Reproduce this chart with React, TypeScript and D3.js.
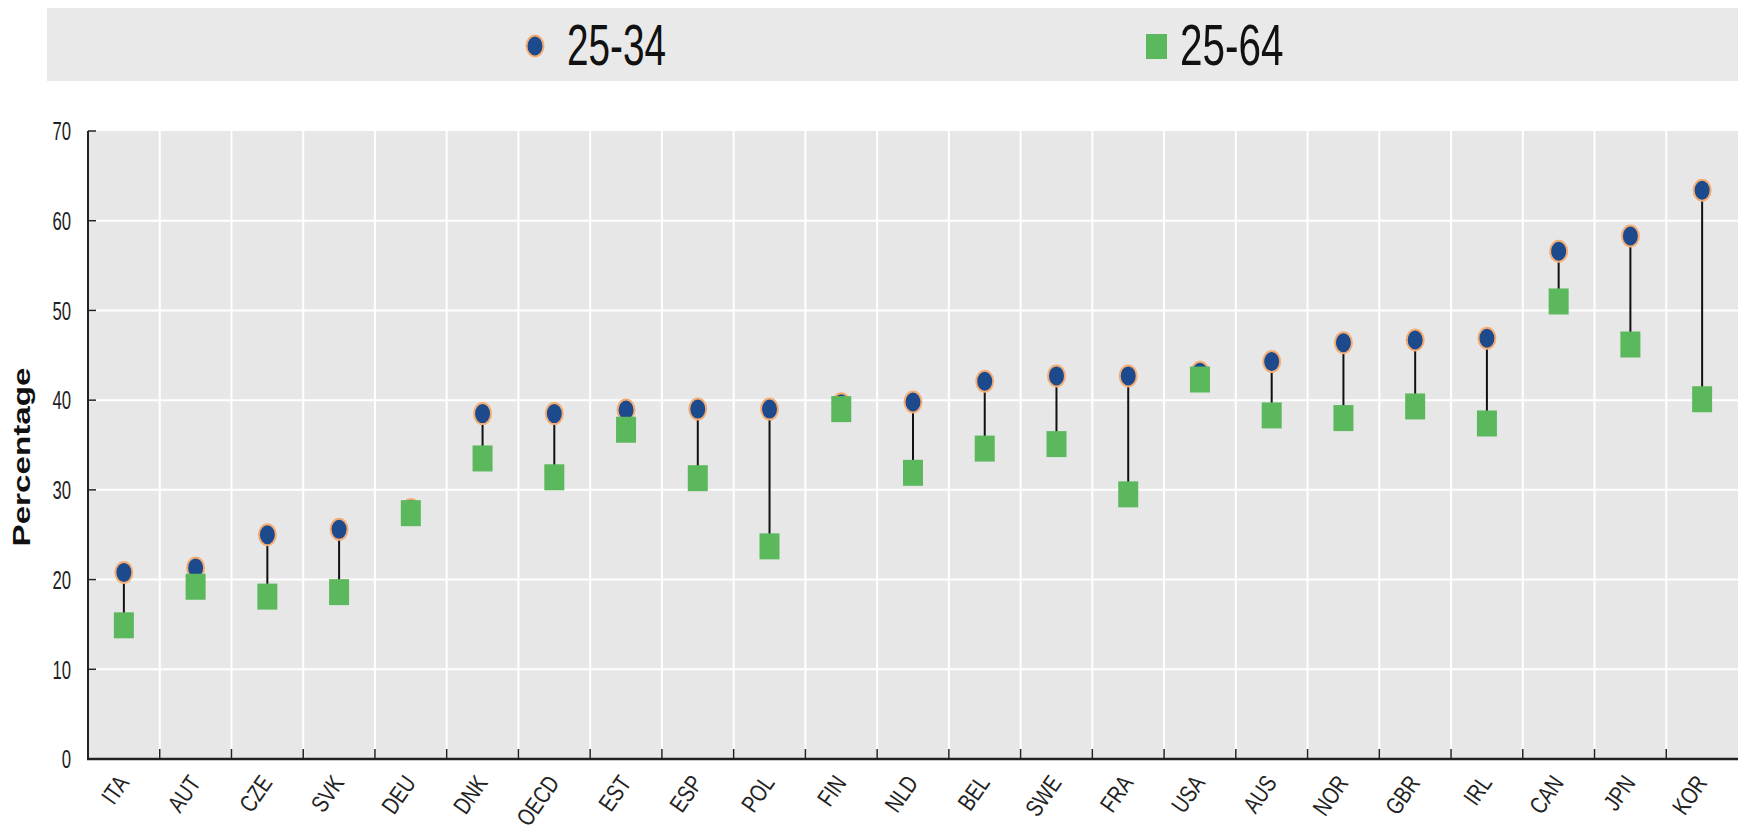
import React from 'react';
import * as d3 from 'd3';

const categories = ['ITA','AUT','CZE','SVK','DEU','DNK','OECD','EST','ESP','POL','FIN','NLD','BEL','SWE','FRA','USA','AUS','NOR','GBR','IRL','CAN','JPN','KOR'];
const age2534 = [20.8,21.3,25.0,25.6,27.8,38.5,38.5,38.9,39.0,39.0,39.6,39.8,42.1,42.7,42.7,43.1,44.3,46.4,46.7,46.9,56.6,58.3,63.4];
const age2564 = [14.9,19.2,18.1,18.6,27.4,33.5,31.4,36.7,31.3,23.7,39.0,31.9,34.6,35.1,29.5,42.3,38.3,38.0,39.3,37.4,51.0,46.2,40.1];
const yTicks = [0,10,20,30,40,50,60,70];
const legendLabels = ['25-34','25-64'];
const yTitle = 'Percentage';

const W = 1738, H = 830;
const FONT = '"Liberation Sans", Arial, sans-serif';
const BLUE = '#1d4a8c';
const ORANGE = '#f3ad75';
const GREEN = '#5cb85c';

export default function App() {
  const left = 88, right = 1738, top = 131, bottom = 759;
  const x = d3.scaleBand<string>().domain(categories).range([left, right]).padding(0);
  const y = d3.scaleLinear().domain([0, 70]).range([bottom, top]);
  const bw = x.bandwidth();
  const boundaries = categories.slice(1).map(c => x(c) as number);

  return (
    <svg width={W} height={H} style={{ position: 'absolute', left: 0, top: 0, background: '#fff' }} fontFamily={FONT}>
      {/* legend */}
      <rect x={47} y={8} width={W - 47} height={73} fill="#e9e9e9" />
      <ellipse cx={535} cy={46} rx={8.5} ry={10.5} fill={BLUE} stroke={ORANGE} strokeWidth={2} />
      <text transform="translate(567,65) scale(0.88,1.32)" fontSize={44} fill="#111">{legendLabels[0]}</text>
      <rect x={1146} y={34} width={21} height={25} fill={GREEN} />
      <text transform="translate(1180,65) scale(0.92,1.32)" fontSize={44} fill="#111">{legendLabels[1]}</text>

      {/* plot background */}
      <rect x={left} y={top} width={right - left} height={bottom - top} fill="#e7e7e7" />
      {yTicks.filter(t => t > 0 && t < 70).map(t => (
        <line key={'h' + t} x1={left} x2={right} y1={y(t)} y2={y(t)} stroke="#fff" strokeWidth={2} />
      ))}
      {boundaries.map((b, i) => (
        <line key={'v' + i} x1={b} x2={b} y1={top} y2={bottom} stroke="#fff" strokeWidth={2} />
      ))}

      {/* axes */}
      <line x1={left} x2={left} y1={top} y2={bottom + 1} stroke="#222" strokeWidth={2} />
      <line x1={left - 1} x2={right} y1={bottom} y2={bottom} stroke="#222" strokeWidth={2.5} />
      {yTicks.map(t => (
        <g key={'yt' + t}>
          <line x1={left} x2={left + 8} y1={y(t)} y2={y(t)} stroke="#222" strokeWidth={1.5} />
          <text transform={`translate(71,${y(t)}) scale(0.88,1.4)`} textAnchor="end" dy="0.35em" fontSize={19} fill="#222">{t}</text>
        </g>
      ))}
      {boundaries.map((b, i) => (
        <line key={'xt' + i} x1={b} x2={b} y1={bottom} y2={bottom - 10} stroke="#222" strokeWidth={1.5} />
      ))}
      {categories.map(c => {
        const cx = (x(c) as number) + bw / 2;
        return (
          <text key={'xl' + c} transform={`translate(${cx + 6},${bottom + 24}) rotate(-55) scale(0.9,1.15)`} textAnchor="end" fontSize={21} fill="#222">{c}</text>
        );
      })}
      <text transform={`translate(30,${(top + bottom) / 2 + 12}) rotate(-90)`} textAnchor="middle" fontSize={24} fontWeight="bold" textLength={179} lengthAdjust="spacingAndGlyphs" fill="#111">{yTitle}</text>

      {/* marks */}
      {categories.map((c, i) => {
        const cx = (x(c) as number) + bw / 2;
        return (
          <g key={'m' + c}>
            <line x1={cx} x2={cx} y1={y(age2534[i])} y2={y(age2564[i])} stroke="#111" strokeWidth={2} />
            <ellipse cx={cx} cy={y(age2534[i])} rx={8.5} ry={10.5} fill={BLUE} stroke={ORANGE} strokeWidth={2} />
            <rect x={cx - 10} y={y(age2564[i]) - 13} width={20} height={26} fill={GREEN} />
          </g>
        );
      })}
    </svg>
  );
}
